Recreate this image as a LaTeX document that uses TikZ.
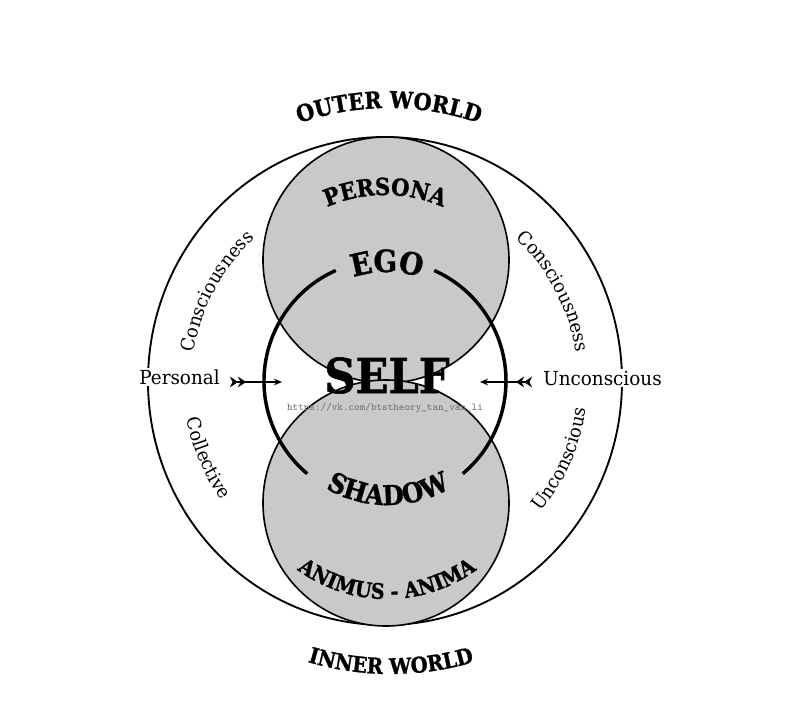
\documentclass[tikz,border=0pt]{standalone}
\usepackage{fontspec}
\setmainfont{DejaVu Serif}
\newfontfamily\capsfont[FakeStretch=0.9, BoldFeatures={FakeBold=1.2}]{DejaVu Serif}
\newfontfamily\labelfont[FakeStretch=0.95]{DejaVu Serif}
\usepackage{tikz}
\usetikzlibrary{positioning,decorations.text,arrows.meta}

\newcommand\boldsz[1]{\capsfont\bfseries\fontsize{#1}{#1}\selectfont}
\newcommand\lightsz[1]{\labelfont\fontsize{#1}{#1}\selectfont}

\tikzset{
	rim/.style={draw, line width=1.4pt},
	lobe/.style={draw, line width=1.2pt, fill=black!21},
	selfline/.style={draw, line width=2.6pt},
	side/.style={font=\lightsz{14.5}, fill=white, inner sep=1pt, anchor=base},
	feather/.style={line width=1pt, {Stealth[reversed,length=6pt,width=8pt] Stealth[reversed,length=6pt,width=8pt]}-{Stealth[length=6pt,width=5pt]}},
	curved/.style={decorate, decoration={text along path, text align=center, text={#1}}}
}

\begin{document}
\begin{tikzpicture}[x=0.75pt,y=0.75pt]
			\useasboundingbox (-385,-338) rectangle (422,381);

			\draw[rim] (0,0) ellipse [x radius=237, y radius=244];
			\draw[lobe] (1,121) circle [radius=123];
			\draw[lobe] (1,-122) circle [radius=123];
			\draw[selfline] (114:121) arc [start angle=114, end angle=230, radius=121];
			\draw[selfline] (-50:121) arc [start angle=-50, end angle=66, radius=121];

			\node(self)        [anchor=base, font=\boldsz{36}] at (2,-12) {SELF};
			\node(mark)        [font=\ttfamily\fontsize{7.9}{8}\selectfont, text=black!55] at (0,-27) {https://vk.com/btstheory\_tan\_van\_li};
			\node(personal)    [side] at (-205.5,-3) {Personal};
			\node(unconscious) [side] at (217.5,-4) {Unconscious};

			\coordinate (ltail) at (-155,-1);
			\coordinate (lhead) at (-103,-1);
			\coordinate (rtail) at (147,-1);
			\coordinate (rhead) at (95,-1);
			\draw[feather] (ltail) -- (lhead);
			\draw[feather] (rtail) -- (rhead);

			\path[curved={|\boldsz{17.3}|OUTER WORLD}] (4,0) ++(135:273) arc [start angle=135, end angle=45, radius=273];
			\path[curved={|\boldsz{17.6}|PERSONA}] (0,41) ++(125:145) arc [start angle=125, end angle=55, radius=145];
			\path[curved={|\boldsz{23}|EGO}] (2,0) ++(130:109) arc [start angle=130, end angle=50, radius=109];
			\path[curved={|\boldsz{20.5}|SHADOW}] (3,0) ++(215:124) arc [start angle=215, end angle=325, radius=124];
			\path[curved={|\boldsz{16}|ANIMUS - ANIMA}] (2,-66) ++(205:152) arc [start angle=205, end angle=335, radius=152];
			\path[curved={|\boldsz{16.3}|INNER WORLD}] (6,0) ++(240:293) arc [start angle=240, end angle=300, radius=293];

			\path[curved={|\lightsz{14}|Consciousness}] (182:193) arc [start angle=182, end angle=122, radius=193];
			\path[curved={|\lightsz{14}|Collective}] (173:202) arc [start angle=173, end angle=234, radius=202];
			\path[curved={|\lightsz{14}|Consciousness}] (58:193) arc [start angle=58, end angle=-2, radius=193];
			\path[curved={|\lightsz{14}|Unconscious}] (-54:203) arc [start angle=-54, end angle=6, radius=203];
		\end{tikzpicture}
\end{document}
